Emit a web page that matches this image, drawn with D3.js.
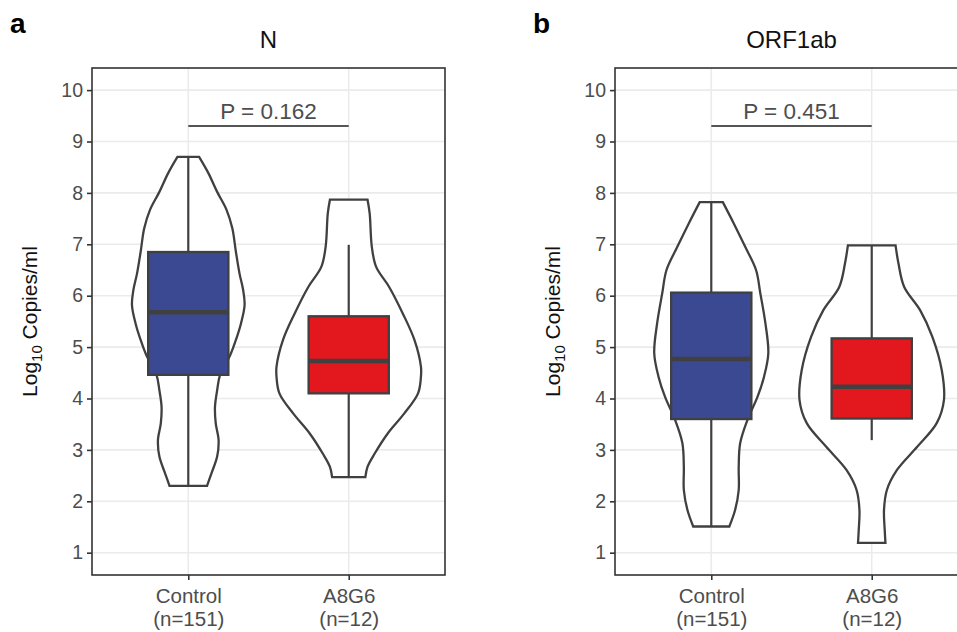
<!DOCTYPE html>
<html>
<head>
<meta charset="utf-8">
<script src="https://cdn.jsdelivr.net/npm/d3@7"></script>
<style>
  html, body { margin: 0; padding: 0; background: #fff; }
  svg { display: block; font-family: "Liberation Sans", Arial, Helvetica, sans-serif; }
</style>
</head>
<body>
<svg id="chart" width="957" height="632"></svg>
<script>
// groups and labels
const categories = ["Control", "A8G6"];
const sampleSizes = [151, 12];
const panelTitles = ["N", "ORF1ab"];
const panelLetters = ["a", "b"];
const pValues = ["0.162", "0.451"];
const yTicks = [1, 2, 3, 4, 5, 6, 7, 8, 9, 10];
const bracketLevel = 9.3;

// box statistics per panel: [Control, A8G6]
const nBoxes = [
    { lo: 2.30, q1: 4.46, med: 5.68, q3: 6.85, hi: 8.70 },
    { lo: 2.47, q1: 4.10, med: 4.73, q3: 5.60, hi: 6.99 }
];
const orfBoxes = [
    { lo: 1.51, q1: 3.60, med: 4.77, q3: 6.06, hi: 7.82 },
    { lo: 3.19, q1: 3.61, med: 4.23, q3: 5.17, hi: 6.98 }
];

// violin outlines: [log10 copies, relative half-width]
const nControlViolin = [
    [8.70, 0.15], [8.38, 0.28], [8.02, 0.40], [7.67, 0.53], [7.31, 0.61],
    [6.85, 0.66], [6.43, 0.71], [6.11, 0.76], [5.82, 0.78], [5.46, 0.73],
    [5.14, 0.66], [4.84, 0.58], [4.46, 0.44], [4.16, 0.40], [3.84, 0.37],
    [3.52, 0.38], [3.19, 0.42], [2.87, 0.40], [2.54, 0.32], [2.30, 0.26]
];
const nA8G6Violin = [
    [7.87, 0.26], [7.60, 0.29], [6.95, 0.32], [6.56, 0.38], [6.17, 0.56],
    [5.65, 0.75], [5.14, 0.91], [4.62, 1.00], [4.42, 1.00], [4.10, 0.96],
    [3.71, 0.77], [3.32, 0.54], [2.93, 0.36], [2.67, 0.26], [2.47, 0.23]
];
const orfControlViolin = [
    [7.82, 0.16], [7.41, 0.31], [6.95, 0.47], [6.50, 0.62], [6.04, 0.68],
    [5.46, 0.75], [4.88, 0.79], [4.42, 0.73], [4.03, 0.64], [3.58, 0.50],
    [3.13, 0.40], [2.67, 0.38], [2.22, 0.38], [1.83, 0.33], [1.51, 0.25]
];
const orfA8G6Violin = [
    [6.98, 0.33], [6.63, 0.37], [6.17, 0.45], [5.72, 0.67], [5.20, 0.84],
    [4.55, 0.97], [3.97, 1.00], [3.52, 0.90], [3.06, 0.63], [2.61, 0.35],
    [2.22, 0.21], [1.83, 0.17], [1.44, 0.18], [1.19, 0.19]
];

const groupColors = ["#3B4992", "#E3171E"];

const panels = [
    { left: 92, boxes: nBoxes, violins: [nControlViolin, nA8G6Violin] },
    { left: 615, boxes: orfBoxes, violins: [orfControlViolin, orfA8G6Violin] }
];

const plotTop = 68, plotBottom = 575, plotWidth = 353;
const lineColor = "#404040";
const textGray = "#4D4D4D";

const svg = d3.select("#chart");
svg.append("rect").attr("width", 957).attr("height", 632).attr("fill", "#fff");

const y = d3.scaleLinear().domain([0.566, 10.43]).range([plotBottom, plotTop]);

panels.forEach((p, i) => {
    const g = svg.append("g");
    const x = d3.scalePoint()
        .domain(categories)
        .range([p.left, p.left + plotWidth])
        .padding(0.6);
    const w = d3.scaleLinear().domain([0, 1]).range([0, x.step() * 0.45]);
    const boxHalf = x.step() * 0.25;

    // grid
    g.append("g").selectAll("line").data(yTicks).join("line")
        .attr("x1", p.left).attr("x2", p.left + plotWidth)
        .attr("y1", d => y(d)).attr("y2", d => y(d))
        .attr("stroke", "#EBEBEB").attr("stroke-width", 1.6);
    g.append("g").selectAll("line").data(categories).join("line")
        .attr("x1", d => x(d)).attr("x2", d => x(d))
        .attr("y1", plotTop).attr("y2", plotBottom)
        .attr("stroke", "#EBEBEB").attr("stroke-width", 1.6);

    // violins
    categories.forEach((c, k) => {
        const cx = x(c);
        const area = d3.area()
            .y(d => y(d[0]))
            .x0(d => cx - w(d[1]))
            .x1(d => cx + w(d[1]))
            .curve(d3.curveCatmullRom.alpha(0.5));
        g.append("path")
            .attr("d", area(p.violins[k]))
            .attr("fill", "#fff")
            .attr("stroke", lineColor)
            .attr("stroke-width", 2.3);
    });

    // boxplots
    categories.forEach((c, k) => {
        const b = p.boxes[k];
        const cx = x(c);
        g.append("line")
            .attr("x1", cx).attr("x2", cx)
            .attr("y1", y(b.hi)).attr("y2", y(b.q3))
            .attr("stroke", lineColor).attr("stroke-width", 2.2);
        g.append("line")
            .attr("x1", cx).attr("x2", cx)
            .attr("y1", y(b.q1)).attr("y2", y(b.lo))
            .attr("stroke", lineColor).attr("stroke-width", 2.2);
        g.append("rect")
            .attr("x", cx - boxHalf).attr("width", boxHalf * 2)
            .attr("y", y(b.q3)).attr("height", y(b.q1) - y(b.q3))
            .attr("fill", groupColors[k])
            .attr("stroke", lineColor).attr("stroke-width", 2.3);
        g.append("line")
            .attr("x1", cx - boxHalf).attr("x2", cx + boxHalf)
            .attr("y1", y(b.med)).attr("y2", y(b.med))
            .attr("stroke", lineColor).attr("stroke-width", 4.5);
    });

    // significance bracket
    g.append("line")
        .attr("x1", x(categories[0])).attr("x2", x(categories[1]))
        .attr("y1", y(bracketLevel)).attr("y2", y(bracketLevel))
        .attr("stroke", "#555").attr("stroke-width", 2);
    g.append("text")
        .attr("x", (x(categories[0]) + x(categories[1])) / 2)
        .attr("y", y(bracketLevel) - 7)
        .attr("text-anchor", "middle")
        .attr("font-size", 22.5)
        .attr("fill", textGray)
        .text("P = " + pValues[i]);

    // border
    g.append("rect")
        .attr("x", p.left).attr("y", plotTop)
        .attr("width", plotWidth).attr("height", plotBottom - plotTop)
        .attr("fill", "none").attr("stroke", "#333").attr("stroke-width", 1.6);

    // y axis
    const yAxis = g.append("g")
        .attr("transform", `translate(${p.left},0)`)
        .call(d3.axisLeft(y).tickValues(yTicks).tickSize(5).tickPadding(4));
    yAxis.select(".domain").remove();
    yAxis.selectAll(".tick line").attr("stroke", "#333").attr("stroke-width", 1.6);
    yAxis.selectAll(".tick text")
        .attr("font-size", 19.5).attr("fill", textGray)
        .attr("font-family", null);

    // x axis with two-line labels
    const xAxis = g.append("g")
        .attr("transform", `translate(0,${plotBottom})`)
        .call(d3.axisBottom(x).tickSize(5));
    xAxis.select(".domain").remove();
    xAxis.selectAll(".tick line").attr("stroke", "#333").attr("stroke-width", 1.6);
    xAxis.selectAll(".tick text").each(function(d, k) {
        const t = d3.select(this)
            .attr("font-size", 20.5).attr("fill", textGray)
            .attr("font-family", null)
            .attr("y", null).attr("dy", null)
            .text(null);
        t.append("tspan").attr("x", 0).attr("y", 28).text(d);
        t.append("tspan").attr("x", 0).attr("y", 51).text(`(n=${sampleSizes[k]})`);
    });

    // title
    svg.append("text")
        .attr("x", p.left + plotWidth / 2)
        .attr("y", 48)
        .attr("text-anchor", "middle")
        .attr("font-size", 24)
        .attr("fill", "#111")
        .text(panelTitles[i]);

    // panel letter
    svg.append("text")
        .attr("x", p.left - 82)
        .attr("y", 33)
        .attr("font-size", 28)
        .attr("font-weight", "bold")
        .attr("fill", "#000")
        .text(panelLetters[i]);

    // y axis title
    const yt = svg.append("text")
        .attr("transform", `translate(${p.left - 55},${(plotTop + plotBottom) / 2}) rotate(-90)`)
        .attr("text-anchor", "middle")
        .attr("font-size", 21)
        .attr("fill", "#111");
    yt.append("tspan").text("Log");
    yt.append("tspan").attr("font-size", 15).attr("dy", 5).text("10");
    yt.append("tspan").attr("dy", -5).text(" Copies/ml");
});
</script>
</body>
</html>
